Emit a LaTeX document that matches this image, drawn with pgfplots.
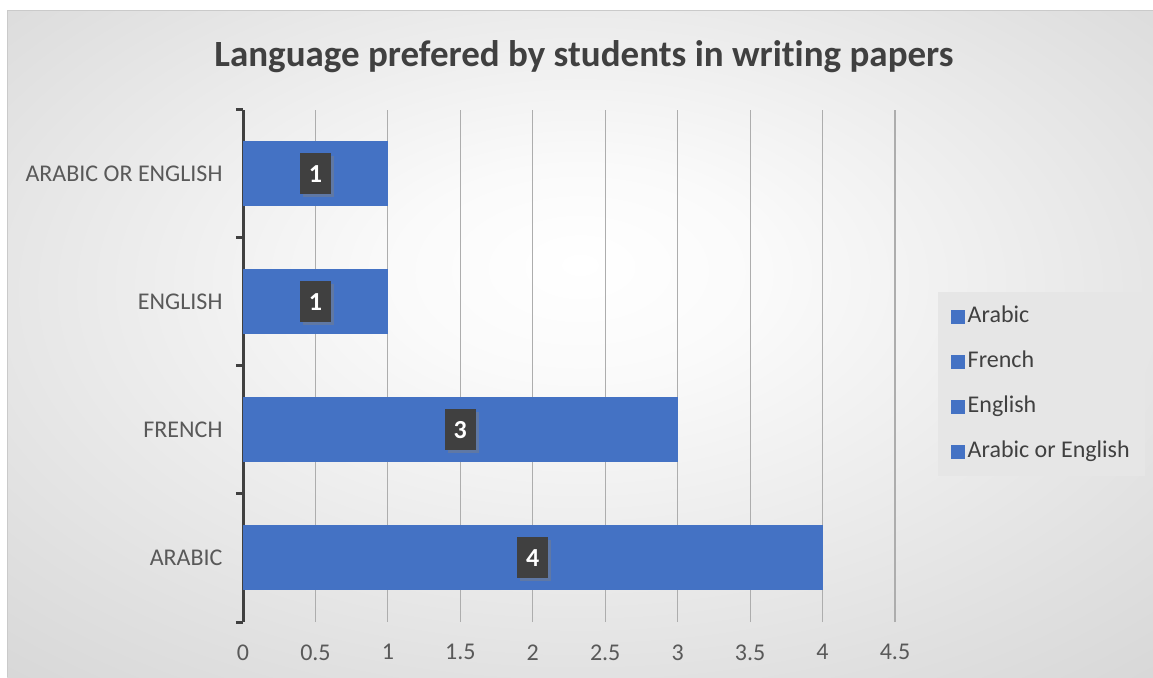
\documentclass[border=0pt]{standalone}
\usepackage{pgfplots}
\pgfplotsset{compat=1.18}
\usepackage{pgfplotstable}
\usepackage{fontspec}
\setmainfont{Carlito}[Ligatures=NoCommon]
\usetikzlibrary{shadows}
\definecolor{barblue}{HTML}{4472C4}
\definecolor{txt}{HTML}{404040}
\definecolor{lab}{HTML}{595959}
\definecolor{gridc}{HTML}{ADADAD}
\definecolor{bgA}{HTML}{FAFAFA}
\definecolor{bgB}{HTML}{E0E0E0}
\definecolor{bgC}{HTML}{CACACA}
\definecolor{bgD}{HTML}{BDBDBD}
\definecolor{legbg}{HTML}{E6E6E6}
\pgfdeclareradialshading{bgshade}{\pgfpoint{0bp}{6bp}}{color(0bp)=(white); color(8bp)=(bgA); color(30bp)=(bgB); color(50bp)=(bgC); color(71bp)=(bgD)}
\pgfplotstableread{
y v
1 4
2 3
3 1
4 1
}\datatable
\begin{document}
\begin{tikzpicture}
\useasboundingbox (0pt,0pt) rectangle (1153pt,677pt);
\fill[white] (0pt,0pt) rectangle (1153pt,677pt);
\shade[shading=bgshade] (7pt,0pt) rectangle (1153pt,666pt);
\draw[color=bgC, line width=1pt] (7pt,0pt) -- (7pt,666pt) -- (1153pt,666pt);
\node[font=\bfseries\fontsize{37}{44}\selectfont, text=txt] at (584pt,620pt) {Language prefered by students in writing papers};
\begin{axis}[
  at={(243pt,55pt)}, anchor=south west,
  scale only axis, width=652pt, height=512pt,
  xmin=0, xmax=4.5, ymin=0.5, ymax=4.5,
  axis lines*=left,
  x axis line style={draw=none},
  y axis line style={line width=3pt, draw=txt},
  xtick={0,0.5,1,1.5,2,2.5,3,3.5,4,4.5},
  ytick={1,2,3,4},
  yticklabels={ARABIC,FRENCH,ENGLISH,ARABIC OR ENGLISH},
  minor ytick={0.5,1.5,2.5,3.5,4.5},
  major tick length=0pt, minor tick length=7pt, tick align=outside,
  minor tick style={line width=3pt, draw=txt},
  xmajorgrids,
  major grid style={draw=gridc, line width=1.2pt},
  /pgf/number format/assume math mode=true,
  xticklabel style={font=\fontsize{24}{28}\selectfont, text=lab, yshift=-19pt},
  yticklabel style={font=\fontsize{24}{28}\selectfont, text=lab, xshift=-17pt},
  legend style={at={(1.066,0.6445)}, anchor=north west, fill=legbg, draw=none,
    font=\fontsize{24}{28}\selectfont, text=txt, row sep=18pt,
    inner xsep=13pt, inner ysep=11pt,
    nodes={inner sep=2.5pt, text height=17pt, text depth=5pt}},
  legend cell align=left,
  legend image code/.code={\fill[barblue] (0pt,-7pt) rectangle (14pt,7pt);},
]
\addplot[xbar, bar width=65pt, bar shift=0pt, fill=barblue, draw=none] coordinates {(4,1)};
\addlegendentry{Arabic}
\addplot[xbar, bar width=65pt, bar shift=0pt, fill=barblue, draw=none] coordinates {(3,2)};
\addlegendentry{French}
\addplot[xbar, bar width=65pt, bar shift=0pt, fill=barblue, draw=none] coordinates {(1,3)};
\addlegendentry{English}
\addplot[xbar, bar width=65pt, bar shift=0pt, fill=barblue, draw=none] coordinates {(1,4)};
\addlegendentry{Arabic or English}
\addplot[draw=none, forget plot, nodes near coords, point meta=explicit,
  every node near coord/.append style={anchor=center, fill=txt, text=white,
    font=\bfseries\fontsize{26}{30}\selectfont, minimum width=31pt, minimum height=41pt,
    inner sep=0pt, drop shadow={opacity=0.45, shadow xshift=3pt, shadow yshift=-3pt}}]
  table[x expr=\thisrow{v}/2, y=y, meta=v] {\datatable};
\end{axis}
\end{tikzpicture}
\end{document}
